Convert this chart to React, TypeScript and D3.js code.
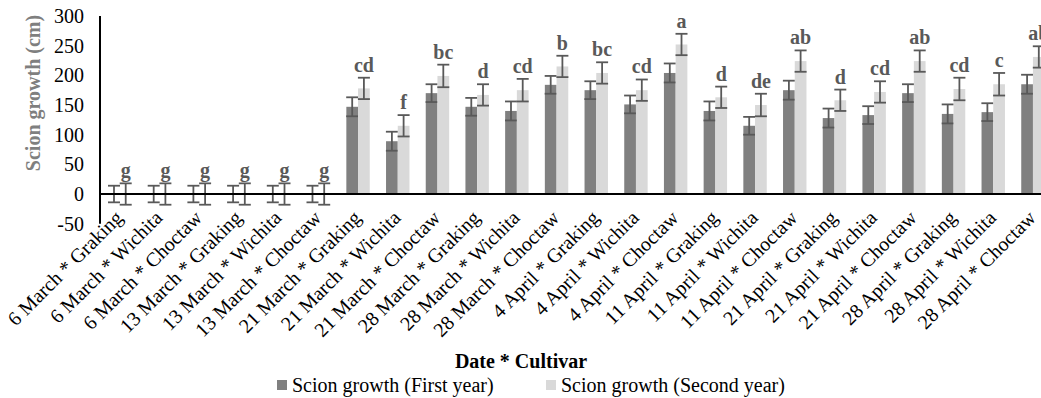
import React from "react";
import * as d3 from "d3";

const categories = [
  "6 March * Graking", "6 March * Wichita", "6 March * Choctaw",
  "13 March * Graking", "13 March * Wichita", "13 March * Choctaw",
  "21 March * Graking", "21 March * Wichita", "21 March * Choctaw",
  "28 March * Graking", "28 March * Wichita", "28 March * Choctaw",
  "4 April * Graking", "4 April * Wichita", "4 April * Choctaw",
  "11 April * Graking", "11 April * Wichita", "11 April * Choctaw",
  "21 April * Graking", "21 April * Wichita", "21 April * Choctaw",
  "28 April * Graking", "28 April * Wichita", "28 April * Choctaw",
];
const firstYear = [0, 0, 0, 0, 0, 0, 147, 89, 170, 147, 140, 184, 175, 151, 204, 140, 115, 175, 128, 133, 170, 135, 138, 185];
const firstErr = [14, 14, 14, 14, 14, 14, 16, 16, 15, 15, 16, 15, 15, 15, 16, 16, 15, 16, 16, 15, 15, 16, 15, 16];
const secondYear = [0, 0, 0, 0, 0, 0, 178, 115, 199, 167, 175, 215, 204, 175, 252, 163, 150, 224, 158, 172, 224, 177, 185, 231];
const secondErr = [18, 18, 18, 18, 18, 18, 18, 18, 19, 18, 19, 18, 18, 18, 18, 18, 19, 18, 18, 18, 18, 19, 19, 18];
const letters = ["g", "g", "g", "g", "g", "g", "cd", "f", "bc", "d", "cd", "b", "bc", "cd", "a", "d", "de", "ab", "d", "cd", "ab", "cd", "c", "ab"];
const yTicks = [-50, 0, 50, 100, 150, 200, 250, 300];
const seriesNames = ["Scion growth (First year)", "Scion growth (Second year)"];
const colors = ["#808080", "#d9d9d9"];

const W = 1041;
const H = 398;
const FONT = "'Liberation Serif', 'Times New Roman', serif";
const FS = 20;

export default function App() {
  const x = d3.scaleBand<string>().domain(categories).range([100, 100 + 24 * 39.7]).paddingInner(0.41).paddingOuter(0.205);
  const y = d3.scaleLinear().domain([-50, 300]).range([223.7, 16]);
  const bw = x.bandwidth() / 2;
  const errColor = "#595959";

  const bars: React.ReactNode[] = [];
  categories.forEach((c, i) => {
    const x0 = x(c)!;
    const series = [
      { v: firstYear[i], e: firstErr[i] },
      { v: secondYear[i], e: secondErr[i] },
    ];
    series.forEach((s, k) => {
      const bx = x0 + k * bw;
      const cx = bx + bw / 2;
      bars.push(
        <rect key={`b${i}-${k}`} x={bx} y={y(Math.max(0, s.v))} width={bw} height={Math.abs(y(s.v) - y(0))} fill={colors[k]} />
      );
      const yt = y(s.v + s.e);
      const yb = y(s.v - s.e);
      bars.push(
        <g key={`e${i}-${k}`} stroke={errColor} strokeWidth={1.8}>
          <line x1={cx} x2={cx} y1={yt} y2={yb} />
          <line x1={cx - 6} x2={cx + 6} y1={yt} y2={yt} />
          <line x1={cx - 6} x2={cx + 6} y1={yb} y2={yb} />
        </g>
      );
    });
    const lx = x0 + bw * 1.5;
    bars.push(
      <text key={`l${i}`} x={lx} y={y(secondYear[i] + secondErr[i]) - 6} textAnchor="middle" fontFamily={FONT} fontWeight="bold" fontSize={FS} fill="#595959">
        {letters[i]}
      </text>
    );
  });

  return (
    <svg width={W} height={H} style={{ position: "absolute", left: 0, top: 0, background: "#fff" }}>
      <rect x={0} y={0} width={W} height={H} fill="#fff" />
      {bars}
      <line x1={100} x2={1060} y1={y(0)} y2={y(0)} stroke="#000" strokeWidth={2} />
      <line x1={100} x2={100} y1={y(300)} y2={y(-50)} stroke="#000" strokeWidth={2} />
      {yTicks.map((t) => (
        <text key={t} x={84} y={y(t)} dy="0.35em" textAnchor="end" fontFamily={FONT} fontSize={FS} fill="#000">
          {t}
        </text>
      ))}
      {categories.map((c) => {
        const cx = x(c)! + x.bandwidth() / 2;
        return (
          <text key={c} transform={`translate(${cx + 4},${219}) rotate(-45)`} textAnchor="end" fontFamily={FONT} fontSize={FS} fill="#000">
            {c}
          </text>
        );
      })}
      <text transform={`translate(40,93) rotate(-90)`} textAnchor="middle" fontFamily={FONT} fontWeight="bold" fontSize={FS} fill="#7f7f7f">
        Scion growth (cm)
      </text>
      <text x={521} y={368} textAnchor="middle" fontFamily={FONT} fontWeight="bold" fontSize={FS} fill="#000">
        Date * Cultivar
      </text>
      {seriesNames.map((n, k) => {
        const lx = k === 0 ? 277 : 546;
        return (
          <g key={n}>
            <rect x={lx} y={380} width={10} height={10} fill={colors[k]} />
            <text x={lx + 15} y={392} fontFamily={FONT} fontSize={FS} fill="#000">
              {n}
            </text>
          </g>
        );
      })}
    </svg>
  );
}
